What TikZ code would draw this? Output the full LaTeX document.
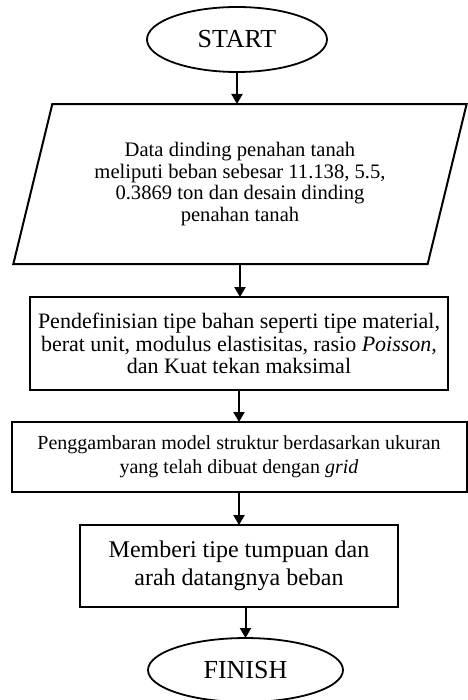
\documentclass[tikz,border=0pt]{standalone}
\usepackage{fontspec}
\setmainfont{Liberation Serif}
\usetikzlibrary{shapes.geometric, arrows.meta}
\usetikzlibrary{positioning}
\tikzstyle{startstop} 	= [ellipse, outer sep=0pt, minimum width=180pt, minimum height=65pt, text centered, draw=black, line width=1.8pt, font=\fontsize{26}{28}\selectfont]
\tikzstyle{io} 			= [trapezium, outer sep=0pt, trapezium left angle=71, trapezium right angle=109, trapezium stretches=true, minimum width=454pt, minimum height=160pt, text centered, align=center, draw=black, line width=2pt]
\tikzstyle{process}   	= [rectangle, outer sep=0pt, inner xsep=2pt, text centered, align=center, draw=black, line width=2pt]
\tikzstyle{arrow} = [line width=2pt, -{Triangle[length=10pt, width=11pt]}]

\begin{document}
\begin{tikzpicture}[x=1pt, y=1pt, node distance=32pt]
\useasboundingbox (0,0) rectangle (467,-700);
				\node (start) [startstop] at (237,-39.5) {START};
				\node (data) [io, below=32pt of start, xshift=3pt, font=\fontsize{20.6}{21.5}\selectfont] {Data dinding penahan tanah\\meliputi beban sebesar 11.138, 5.5,\\0.3869 ton dan desain dinding\\penahan tanah};
				\node (bahan) [process, below=33pt of data, xshift=-1pt, minimum width=418pt, minimum height=93pt, font=\fontsize{22}{22.5}\selectfont] {Pendefinisian tipe bahan seperti tipe material,\\berat unit, modulus elastisitas, rasio \textit{Poisson,}\\dan Kuat tekan maksimal};
				\node (model) [process, below=32pt of bahan, minimum width=455pt, minimum height=70pt, font=\fontsize{20}{24}\selectfont] {Penggambaran model struktur berdasarkan ukuran\\yang telah dibuat dengan \textit{grid}};
				\node (tumpuan) [process, below=33pt of model, minimum width=318pt, minimum height=82pt, font=\fontsize{24}{28}\selectfont] {Memberi tipe tumpuan dan\\arah datangnya beban};
				\node (finish) [startstop, below=31pt of tumpuan, xshift=6.5pt, minimum width=195pt, minimum height=64pt] {FINISH};
				
				\draw [arrow] (start.south) -- (start.south |- data.north);
				\draw [arrow] (data.south) -- (data.south |- bahan.north);
				\draw [arrow] (bahan.south) -- (bahan.south |- model.north);
				\draw [arrow] (model.south) -- (model.south |- tumpuan.north);
				\draw [arrow] (finish.north |- tumpuan.south) -- (finish.north);
			\end{tikzpicture}
\end{document}
